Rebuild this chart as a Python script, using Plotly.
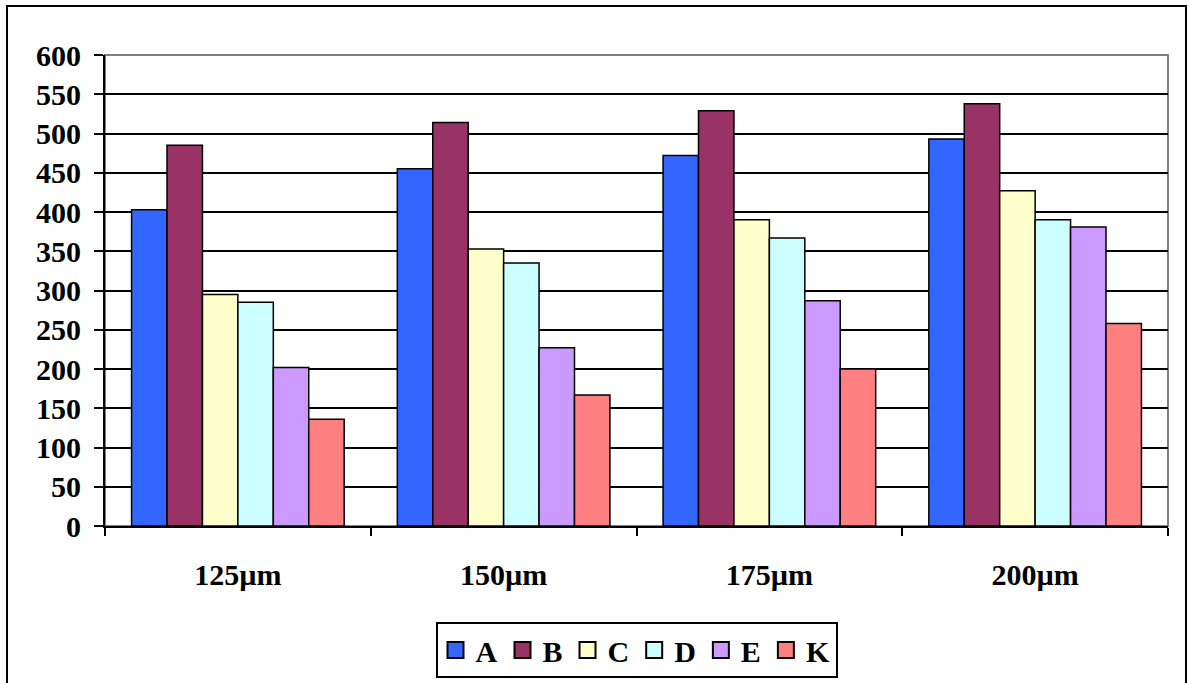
import plotly.graph_objects as go

# Thickness groups on the category axis
categories = ["125µm", "150µm", "175µm", "200µm"]

# One series per sample
series_names = ["A", "B", "C", "D", "E", "K"]
values_A = [403, 455, 472, 493]
values_B = [485, 514, 529, 538]
values_C = [295, 353, 390, 427]
values_D = [285, 335, 367, 390]
values_E = [202, 227, 287, 381]
values_K = [136, 167, 200, 258]

y_ticks = [0, 50, 100, 150, 200, 250, 300, 350, 400, 450, 500, 550, 600]

series_values = [values_A, values_B, values_C, values_D, values_E, values_K]
colors = ["#3366FF", "#993366", "#FFFFCC", "#CCFFFF", "#CC99FF", "#FF8080"]

W, H = 1189, 683
L, R, T, B = 105, 21, 55, 157

FONT = dict(family="Liberation Serif, Times New Roman, serif", size=30,
            color="black", weight="bold")

fig = go.Figure()
for name, vals, col in zip(series_names, series_values, colors):
    fig.add_trace(go.Bar(
        x=categories, y=vals, name=name, legendgroup=name, showlegend=False,
        marker=dict(color=col, line=dict(color="black", width=1.5)),
    ))

# Legend keys: larger square swatches than the built-in bar key
for name, col in zip(series_names, colors):
    fig.add_trace(go.Scatter(
        x=[None], y=[None], name=name, legendgroup=name, mode="markers",
        marker=dict(symbol="square", size=16, color=col,
                    line=dict(color="black", width=2)),
        showlegend=True, hoverinfo="skip",
    ))

pw = W - L - R
ph = H - T - B


def px_x(x):
    return (x - L) / pw


def px_y(y):
    return (H - B - y) / ph


fig.update_layout(
    width=W, height=H,
    margin=dict(l=L, r=R, t=T, b=B, autoexpand=False),
    paper_bgcolor="white", plot_bgcolor="white",
    barmode="group", bargap=0.2, bargroupgap=0,
    font=FONT,
    showlegend=True,
    legend=dict(
        orientation="h", x=0.5, xanchor="center",
        y=px_y(622), yanchor="top",
        bordercolor="black", borderwidth=2,
        font=FONT, itemwidth=30, tracegroupgap=0, itemsizing="trace",
    ),
    shapes=[
        # plot-area frame (grey top/right edges)
        dict(type="rect", xref="paper", yref="paper", x0=0, x1=1, y0=0, y1=1,
             line=dict(color="#808080", width=2), layer="below"),
        # outer chart frame
        dict(type="rect", xref="paper", yref="paper",
             x0=px_x(7), x1=px_x(1186), y0=px_y(700), y1=px_y(6),
             line=dict(color="black", width=2), layer="below"),
    ],
)

fig.update_xaxes(
    type="category", tickson="boundaries",
    ticks="outside", ticklen=8, tickwidth=2, tickcolor="black",
    showline=True, linecolor="black", linewidth=2,
    showgrid=False, ticklabelstandoff=21, automargin=False,
    tickfont=FONT,
)
fig.update_yaxes(
    range=[0, 600], tickvals=y_ticks,
    ticks="outside", ticklen=9, tickwidth=2, tickcolor="black",
    showline=True, linecolor="black", linewidth=2,
    showgrid=True, gridcolor="black", gridwidth=2,
    zeroline=False, ticklabelstandoff=7, automargin=False,
    tickfont=FONT,
)

fig.write_html("out.html")
